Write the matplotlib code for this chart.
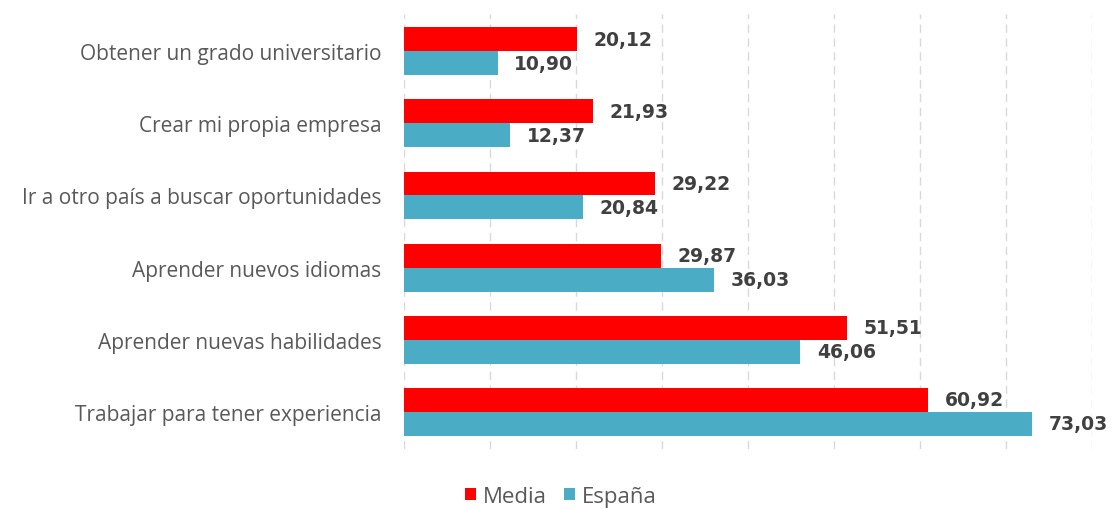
import matplotlib.pyplot as plt
import numpy as np

# Data
categories = ['Obtener un grado universitario', 'Crear mi propia empresa',
              'Ir a otro país a buscar oportunidades', 'Aprender nuevos idiomas',
              'Aprender nuevas habilidades', 'Trabajar para tener experiencia']
media = [20.12, 21.93, 29.22, 29.87, 51.51, 60.92]
espana = [10.90, 12.37, 20.84, 36.03, 46.06, 73.03]

red = '#FF0000'
blue = '#4BACC6'
label_color = '#595959'
value_color = '#404040'

plt.rcParams['font.family'] = ['Open Sans', 'DejaVu Sans']
plt.rcParams['font.stretch'] = 'normal'

fig = plt.figure(figsize=(11.15, 5.1), dpi=100)
ax = fig.add_axes([0.3623, 0.1176, 0.6171, 0.853])

y = np.arange(len(categories))
h = 0.333
ax.barh(y - h / 2, media, height=h, color=red, label='Media')
ax.barh(y + h / 2, espana, height=h, color=blue, label='España')

value_font = dict(family='DejaVu Sans', fontsize=13.5, fontweight='bold', color=value_color)
for yi, v in zip(y, media):
    ax.annotate(f'{v:.2f}'.replace('.', ','), (v, yi - h / 2), xytext=(12, 0),
                textcoords='offset points', va='center', ha='left', **value_font)
for yi, v in zip(y, espana):
    ax.annotate(f'{v:.2f}'.replace('.', ','), (v, yi + h / 2), xytext=(12, 0),
                textcoords='offset points', va='center', ha='left', **value_font)

ax.set_xlim(0, 80)
ax.set_ylim(len(categories) - 0.48, -0.52)
ax.set_xticks(np.arange(0, 81, 10))
ax.set_xticklabels([])
ax.set_yticks(y)
ax.set_yticklabels(categories, fontsize=15, color=label_color, fontstretch='normal')
ax.tick_params(axis='both', length=0)
ax.tick_params(axis='y', pad=16)
ax.grid(axis='x', color='#D9D9D9', linestyle=(0, (6, 4)), linewidth=1)
ax.set_axisbelow(True)
for s in ax.spines.values():
    s.set_visible(False)

leg = fig.legend(loc='lower center', bbox_to_anchor=(0.503, -0.035), ncol=2, frameon=False,
                 fontsize=16, handlelength=0.5, handleheight=0.5, handletextpad=0.3,
                 columnspacing=0.8)
for t in leg.get_texts():
    t.set_color(label_color)

fig.savefig('out.png', dpi=100)
